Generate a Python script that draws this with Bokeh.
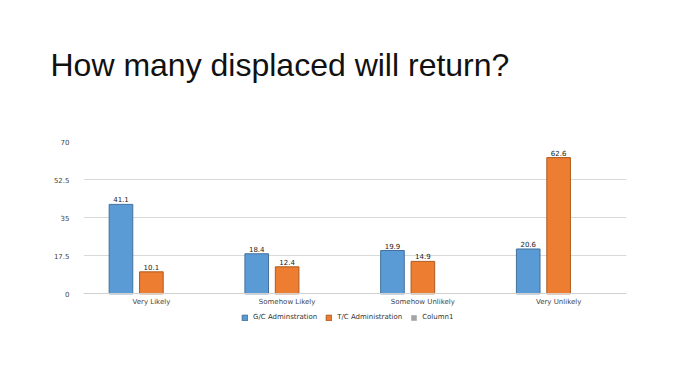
from bokeh.plotting import figure
from bokeh.models import ColumnDataSource, FixedTicker, Legend, LegendItem, LabelSet, Title
from bokeh.transform import dodge
from bokeh.core.properties import value
from bokeh.embed import file_html
from bokeh.resources import INLINE

title_text = "How many displaced will return?"
categories = ["Very Likely", "Somehow Likely", "Somehow Unlikely", "Very Unlikely"]
series_names = ["G/C Adminstration", "T/C Administration", "Column1"]
gc_values = [41.1, 18.4, 19.9, 20.6]
tc_values = [10.1, 12.4, 14.9, 62.6]
col1_values = [0, 0, 0, 0]
y_ticks = [0, 17.5, 35, 52.5, 70]
y_tick_labels = ["0", "17.5", "35", "52.5", "70"]

FONT = "DejaVu Sans"

src = ColumnDataSource(dict(
    cat=categories,
    gc=gc_values,
    tc=tc_values,
    c1=col1_values,
    gc_lbl=[f"{v:.1f}" for v in gc_values],
    tc_lbl=[f"{v:.1f}" for v in tc_values],
))

# frame: x 83..626, y=70 at 141, y=0 at 293.3, frame bottom at 340
p = figure(width=694, height=391, x_range=categories, y_range=(-21.46, 70),
           output_backend="svg", toolbar_location=None,
           min_border_left=83, min_border_right=68,
           min_border_top=141, min_border_bottom=51)
p.outline_line_color = None
p.background_fill_color = "white"
p.border_fill_color = "white"
p.x_range.range_padding = 0

# invisible spacer title (closest to the frame), then the real title above it
spacer = Title(text=" ", text_font="Liberation Sans", text_font_size="32px",
               text_color="white", standoff=21)
p.add_layout(spacer, "above")
main_title = Title(text=title_text, text_font="Liberation Sans", text_font_size="32px",
                   text_font_style="normal", text_color="#111111",
                   align="left", offset=-33, standoff=0)
p.add_layout(main_title, "above")

p.xgrid.grid_line_color = None
p.ygrid.grid_line_color = "#d9d9d9"
p.ygrid.grid_line_width = 1
p.ygrid.ticker = FixedTicker(ticks=y_ticks)

p.yaxis.ticker = FixedTicker(ticks=y_ticks)
p.yaxis.major_label_overrides = {t: l for t, l in zip(y_ticks, y_tick_labels)}
p.yaxis.axis_line_color = None
p.yaxis.major_tick_line_color = None
p.yaxis.minor_tick_line_color = None
p.yaxis.major_label_text_font = FONT
p.yaxis.major_label_text_font_size = "7px"
p.yaxis.major_label_text_color = "#444444"
p.yaxis.major_label_standoff = 8

p.xaxis.fixed_location = 0
p.xaxis.axis_line_color = "#d0d0d0"
p.xaxis.major_tick_line_color = None
p.xaxis.minor_tick_line_color = None
p.xaxis.major_tick_out = 0
p.xaxis.major_tick_in = 0
p.xaxis.major_label_text_font = FONT
p.xaxis.major_label_text_font_size = "7px"
p.xaxis.major_label_text_color = "#444444"
p.xaxis.major_label_standoff = 4

W = 0.174
OFF = 0.224
r1 = p.vbar(x=dodge("cat", -OFF, range=p.x_range), top="gc", width=W, source=src,
            fill_color="#5B9BD5", line_color="#41719C", line_width=1)
r2 = p.vbar(x=dodge("cat", 0, range=p.x_range), top="tc", width=W, source=src,
            fill_color="#ED7D31", line_color="#AE5A21", line_width=1)
r3 = p.vbar(x=dodge("cat", OFF, range=p.x_range), top="c1", width=W, source=src,
            fill_color="#A5A5A5", line_color=None)

for xo, col, lbl in [(-OFF, "gc", "gc_lbl"), (0, "tc", "tc_lbl")]:
    ls = LabelSet(x=dodge("cat", xo, range=p.x_range), y=col, text=lbl, source=src,
                  text_align="center", text_baseline="bottom", y_offset=2,
                  text_font=value(FONT), text_font_size="7px", text_color="#222222")
    p.add_layout(ls)

legend = Legend(items=[LegendItem(label=series_names[0], renderers=[r1]),
                       LegendItem(label=series_names[1], renderers=[r2]),
                       LegendItem(label=series_names[2], renderers=[r3])],
                orientation="horizontal", location=(158, 19),
                glyph_width=7, glyph_height=7, label_standoff=5, spacing=8,
                padding=0, margin=0, border_line_color=None,
                label_text_font=FONT, label_text_font_size="7px",
                label_text_color="#333333", label_height=8,
                background_fill_alpha=0)
p.add_layout(legend)

open("out.html", "w").write(file_html(p, INLINE))
